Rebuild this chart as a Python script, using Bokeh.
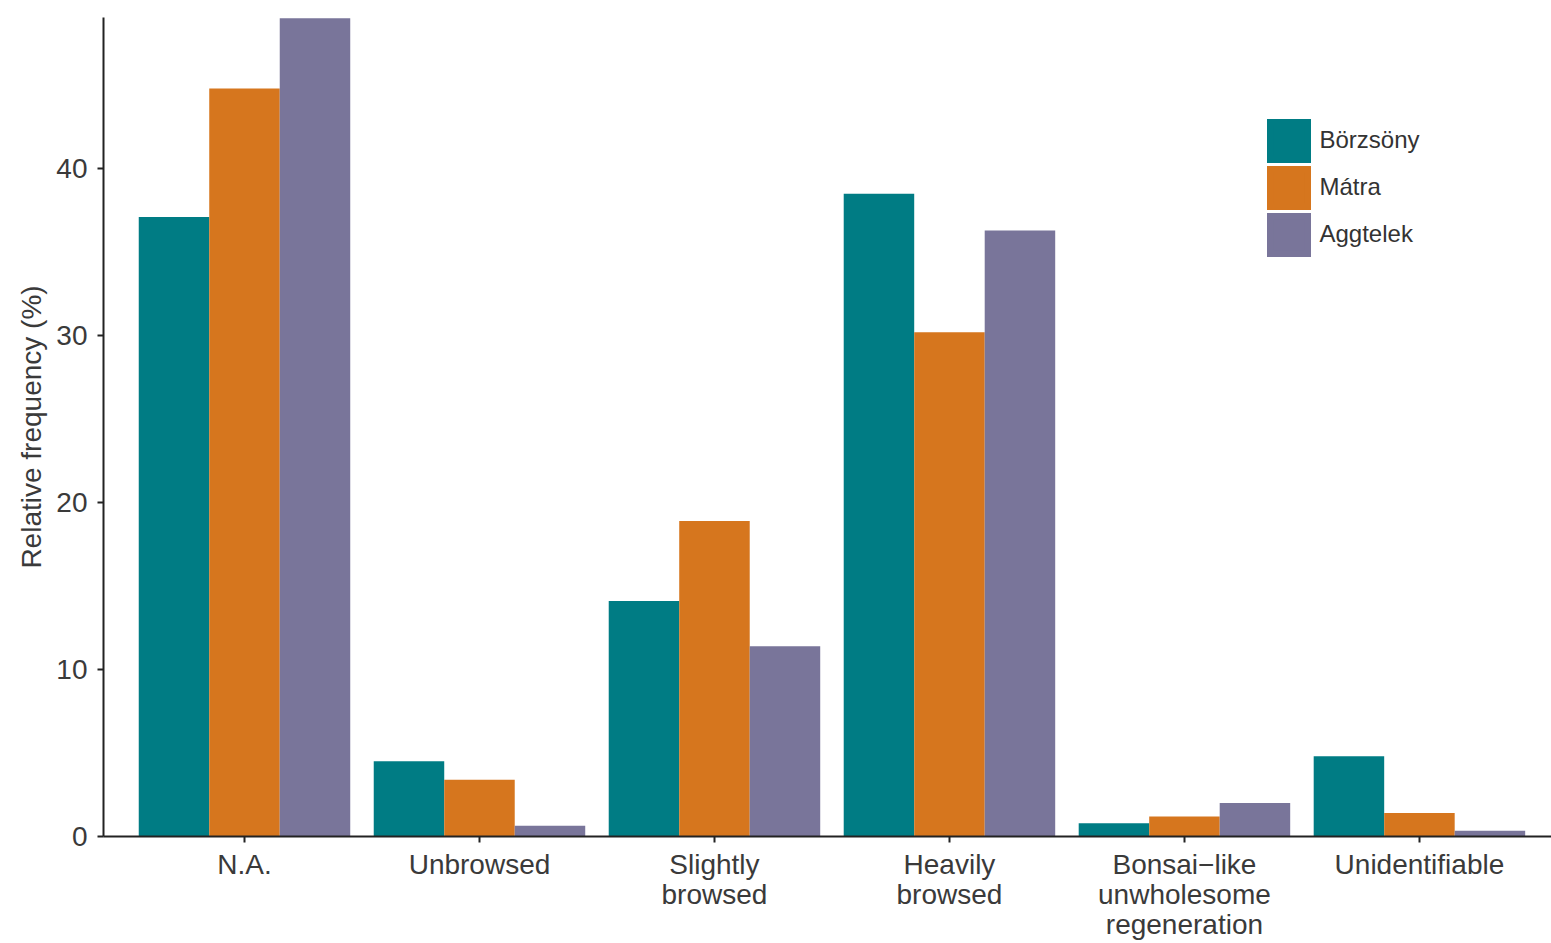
from bokeh.plotting import figure
from bokeh.models import Range1d, FixedTicker, Legend, LegendItem, ColumnDataSource
from bokeh.embed import file_html
from bokeh.resources import INLINE

categories = ["N.A.", "Unbrowsed", "Slightly\nbrowsed", "Heavily\nbrowsed",
              "Bonsai\u2212like\nunwholesome\nregeneration", "Unidentifiable"]
series = ["Börzsöny", "Mátra", "Aggtelek"]
borzsony = [37.1, 4.5, 14.1, 38.5, 0.8, 4.8]
matra = [44.8, 3.4, 18.9, 30.2, 1.2, 1.4]
aggtelek = [49.0, 0.65, 11.4, 36.3, 2.0, 0.35]
colors = ["#007C84", "#D6761E", "#79759A"]
y_ticks = [0, 10, 20, 30, 40]

FONT = "Liberation Sans"

p = figure(width=1551, height=943, output_backend="svg", toolbar_location=None,
           x_range=Range1d(-0.6, 5.562), y_range=Range1d(0, 49.05),
           min_border_left=103, min_border_top=17, min_border_right=0, min_border_bottom=107)
p.outline_line_color = None
p.xgrid.grid_line_color = None
p.ygrid.grid_line_color = None
p.background_fill_color = "white"

xs = list(range(len(categories)))
items = []
for i, (name, vals, col) in enumerate(zip(series, [borzsony, matra, aggtelek], colors)):
    src = ColumnDataSource(dict(x=[x + (i - 1) * 0.3 for x in xs], top=vals))
    p.vbar(x="x", top="top", width=0.3, source=src, fill_color=col, line_color=None)
    # hidden legend-key renderer, stroked so the key is a full square
    key = p.vbar(x="x", top="top", width=0.3, source=src, fill_color=col,
                 line_color=col, line_width=6.4, line_join="miter", visible=False)
    items.append(LegendItem(label=name, renderers=[key]))

legend = Legend(items=items, location=(1161.5, 578.5), padding=0, spacing=0, margin=0,
                glyph_width=47, glyph_height=47, label_standoff=8,
                label_text_font=FONT, label_text_font_size="24px", label_text_color="#333333",
                inactive_fill_alpha=0,
                border_line_color=None, background_fill_alpha=0)
p.add_layout(legend, "center")

for ax in (p.xaxis[0], p.yaxis[0]):
    ax.axis_line_color = "#222222"
    ax.axis_line_width = 2
    ax.major_tick_line_color = "#222222"
    ax.major_tick_line_width = 2
    ax.major_tick_in = 0
    ax.major_tick_out = 6
    ax.minor_tick_line_color = None
    ax.major_label_text_font = FONT
    ax.major_label_text_color = "#3a3a3a"

p.xaxis.ticker = FixedTicker(ticks=xs)
p.xaxis.major_label_overrides = {x: c for x, c in zip(xs, categories)}
p.xaxis.major_label_standoff = 6
p.xaxis.major_label_text_font_size = "28px"
p.xaxis.major_label_text_line_height = 0.98
p.yaxis.ticker = FixedTicker(ticks=y_ticks)
p.yaxis.major_label_standoff = 10
p.yaxis.major_label_text_font_size = "28px"
p.yaxis.axis_label = "Relative frequency (%)"
p.yaxis.axis_label_text_font = FONT
p.yaxis.axis_label_text_font_size = "28px"
p.yaxis.axis_label_text_font_style = "normal"
p.yaxis.axis_label_text_color = "#3a3a3a"
p.yaxis.axis_label_standoff = 6

open("out.html", "w").write(file_html(p, INLINE))
